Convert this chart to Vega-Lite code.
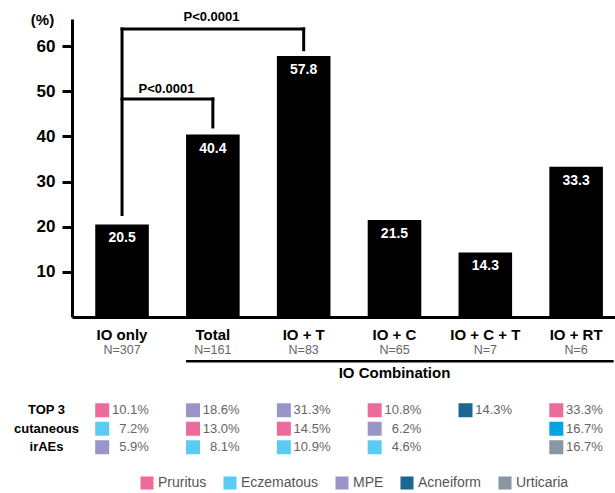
{
  "$schema": "https://vega.github.io/schema/vega-lite/v6.json",
  "padding": {"left": 13, "top": 10, "right": 0, "bottom": 0},
  "bounds": "flush",
  "spacing": 84,
  "config": {
    "font": "Liberation Sans",
    "view": {"stroke": null}
  },
  "datasets": {
    "bars": [
      {"group": "IO only", "rate": 20.5, "n": "N=307"},
      {"group": "Total", "rate": 40.4, "n": "N=161"},
      {"group": "IO + T", "rate": 57.8, "n": "N=83"},
      {"group": "IO + C", "rate": 21.5, "n": "N=65"},
      {"group": "IO + C + T", "rate": 14.3, "n": "N=7"},
      {"group": "IO + RT", "rate": 33.3, "n": "N=6"}
    ],
    "brackets": [
      {"x1": "IO only", "x2": "IO only", "y1": 22.7, "y2": 63.8},
      {"x1": "IO only", "x2": "IO + T", "y1": 63.8, "y2": 63.8},
      {"x1": "IO + T", "x2": "IO + T", "y1": 63.8, "y2": 59.2},
      {"x1": "IO only", "x2": "Total", "y1": 48.3, "y2": 48.3},
      {"x1": "Total", "x2": "Total", "y1": 48.3, "y2": 42.1}
    ],
    "pvals": [
      {"id": 1, "label": "P<0.0001", "from": "IO only", "to": "IO + T", "y": 66.5},
      {"id": 2, "label": "P<0.0001", "from": "IO only", "to": "Total", "y": 50.6}
    ],
    "combo": [
      {"from": "Total", "to": "IO + RT", "label": "IO Combination"}
    ],
    "table": [
      {"group": "IO only", "rank": 1, "type": "Pruritus", "pct": 0.101},
      {"group": "IO only", "rank": 2, "type": "Eczematous", "pct": 0.072},
      {"group": "IO only", "rank": 3, "type": "MPE", "pct": 0.059},
      {"group": "Total", "rank": 1, "type": "MPE", "pct": 0.186},
      {"group": "Total", "rank": 2, "type": "Pruritus", "pct": 0.13},
      {"group": "Total", "rank": 3, "type": "Eczematous", "pct": 0.081},
      {"group": "IO + T", "rank": 1, "type": "MPE", "pct": 0.313},
      {"group": "IO + T", "rank": 2, "type": "Pruritus", "pct": 0.145},
      {"group": "IO + T", "rank": 3, "type": "Eczematous", "pct": 0.109},
      {"group": "IO + C", "rank": 1, "type": "Pruritus", "pct": 0.108},
      {"group": "IO + C", "rank": 2, "type": "MPE", "pct": 0.062},
      {"group": "IO + C", "rank": 3, "type": "Eczematous", "pct": 0.046},
      {"group": "IO + C + T", "rank": 1, "type": "Acneiform", "pct": 0.143},
      {"group": "IO + RT", "rank": 1, "type": "Pruritus", "pct": 0.333},
      {"group": "IO + RT", "rank": 2, "type": "Other", "pct": 0.167},
      {"group": "IO + RT", "rank": 3, "type": "Urticaria", "pct": 0.167}
    ]
  },
  "vconcat": [
    {
      "width": 544,
      "height": 298,
      "layer": [
        {
          "data": {"name": "bars"},
          "mark": {"type": "bar", "color": "black"},
          "encoding": {
            "x": {
              "field": "group", "type": "nominal", "sort": null,
              "scale": {"type": "band", "domain": ["IO only", "Total", "IO + T", "IO + C", "IO + C + T", "IO + RT"], "paddingInner": 0.41, "paddingOuter": 0.2, "align": 0.64},
              "axis": {"title": null, "labelAngle": 0, "labelFontSize": 15, "labelFontWeight": "bold", "labelColor": "black", "labelPadding": 10, "ticks": false, "domainWidth": 3, "domainColor": "black"}
            },
            "y": {
              "field": "rate", "type": "quantitative",
              "scale": {"domain": [0, 66], "nice": false},
              "axis": {"title": "(%)", "titleAngle": 0, "titleX": -30, "titleY": 0, "titleAlign": "center", "titleBaseline": "middle", "titleFontSize": 15, "titleFontWeight": "bold", "titleColor": "black", "values": [10, 20, 30, 40, 50, 60], "grid": false, "labelFontSize": 17, "labelFontWeight": "bold", "labelColor": "black", "labelPadding": 7, "tickSize": 10, "tickWidth": 3, "tickColor": "black", "domainWidth": 3, "domainColor": "black"}
            }
          }
        },
        {
          "data": {"name": "bars"},
          "mark": {"type": "text", "color": "white", "fontWeight": "bold", "fontSize": 14, "dy": 14, "baseline": "middle"},
          "encoding": {
            "x": {"field": "group", "type": "nominal", "sort": null},
            "y": {"field": "rate", "type": "quantitative"},
            "text": {"field": "rate", "type": "quantitative", "format": ".1f"}
          }
        },
        {
          "data": {"name": "bars"},
          "mark": {"type": "text", "color": "#666666", "fontSize": 12.5, "baseline": "middle"},
          "encoding": {
            "x": {"field": "group", "type": "nominal", "sort": null},
            "y": {"datum": -7.4, "type": "quantitative"},
            "text": {"field": "n", "type": "nominal"}
          }
        },
        {
          "data": {"name": "brackets"},
          "mark": {"type": "rule", "strokeWidth": 3, "color": "black", "strokeCap": "square"},
          "encoding": {
            "x": {"field": "x1", "type": "nominal", "bandPosition": 0.5},
            "x2": {"field": "x2", "bandPosition": 0.5},
            "y": {"field": "y1", "type": "quantitative"},
            "y2": {"field": "y2"}
          }
        },
        {
          "data": {"name": "pvals"},
          "transform": [{"filter": "datum.id == 1"}],
          "mark": {"type": "text", "fontWeight": "bold", "fontSize": 13, "baseline": "middle", "color": "black"},
          "encoding": {
            "x": {"field": "from", "type": "nominal", "bandPosition": 2.17},
            "y": {"field": "y", "type": "quantitative"},
            "text": {"field": "label", "type": "nominal"}
          }
        },
        {
          "data": {"name": "pvals"},
          "transform": [{"filter": "datum.id == 2"}],
          "mark": {"type": "text", "fontWeight": "bold", "fontSize": 13, "baseline": "middle", "color": "black"},
          "encoding": {
            "x": {"field": "from", "type": "nominal", "bandPosition": 1.33},
            "y": {"field": "y", "type": "quantitative"},
            "text": {"field": "label", "type": "nominal"}
          }
        },
        {
          "data": {"name": "combo"},
          "mark": {"type": "rule", "strokeWidth": 2.5, "color": "black"},
          "encoding": {
            "x": {"field": "from", "type": "nominal", "bandPosition": 0},
            "x2": {"field": "to", "bandPosition": 1.2},
            "y": {"datum": -9.8, "type": "quantitative"}
          }
        },
        {
          "data": {"name": "combo"},
          "mark": {"type": "text", "fontWeight": "bold", "fontSize": 15, "baseline": "middle", "color": "black"},
          "encoding": {
            "x": {"datum": "IO + C", "type": "nominal"},
            "y": {"datum": -12.4, "type": "quantitative"},
            "text": {"field": "label", "type": "nominal"}
          }
        }
      ]
    },
    {
      "width": 544,
      "height": 55.5,
      "data": {"name": "table"},
      "layer": [
        {
          "mark": {"type": "square", "filled": true, "size": 196, "opacity": 1},
          "encoding": {
            "x": {
              "field": "group", "type": "nominal", "sort": null, "bandPosition": 0.13,
              "scale": {"type": "band", "domain": ["IO only", "Total", "IO + T", "IO + C", "IO + C + T", "IO + RT"], "paddingInner": 0.41, "paddingOuter": 0.2, "align": 0.64},
              "axis": null
            },
            "y": {
              "field": "rank", "type": "ordinal",
              "scale": {"type": "band", "paddingInner": 0, "paddingOuter": 0},
              "axis": {"title": null, "labelExpr": "datum.value == 1 ? 'TOP 3' : datum.value == 2 ? 'cutaneous' : 'irAEs'", "labelAlign": "center", "labelPadding": 26, "labelFontSize": 13, "labelFontWeight": "bold", "labelColor": "black", "ticks": false, "domain": false}
            },
            "color": {
              "field": "type", "type": "nominal",
              "scale": {"domain": ["Pruritus", "Eczematous", "MPE", "Acneiform", "Urticaria", "Other"], "range": ["#ec6a9c", "#5ccbf3", "#9a95c9", "#1b6792", "#8797a3", "#06a3e2"]},
              "legend": {"title": null, "orient": "none", "direction": "horizontal", "legendX": 68, "legendY": 457, "values": ["Pruritus", "Eczematous", "MPE", "Acneiform", "Urticaria"], "symbolType": "square", "symbolSize": 170, "symbolStrokeWidth": 0, "labelFontSize": 14, "labelColor": "#555555", "columnPadding": 16}
            }
          }
        },
        {
          "mark": {"type": "text", "align": "right", "baseline": "middle", "fontSize": 13, "color": "#666666"},
          "encoding": {
            "x": {"field": "group", "type": "nominal", "sort": null, "bandPosition": 1},
            "y": {"field": "rank", "type": "ordinal"},
            "text": {"field": "pct", "type": "quantitative", "format": ".1%"}
          }
        }
      ]
    }
  ]
}
